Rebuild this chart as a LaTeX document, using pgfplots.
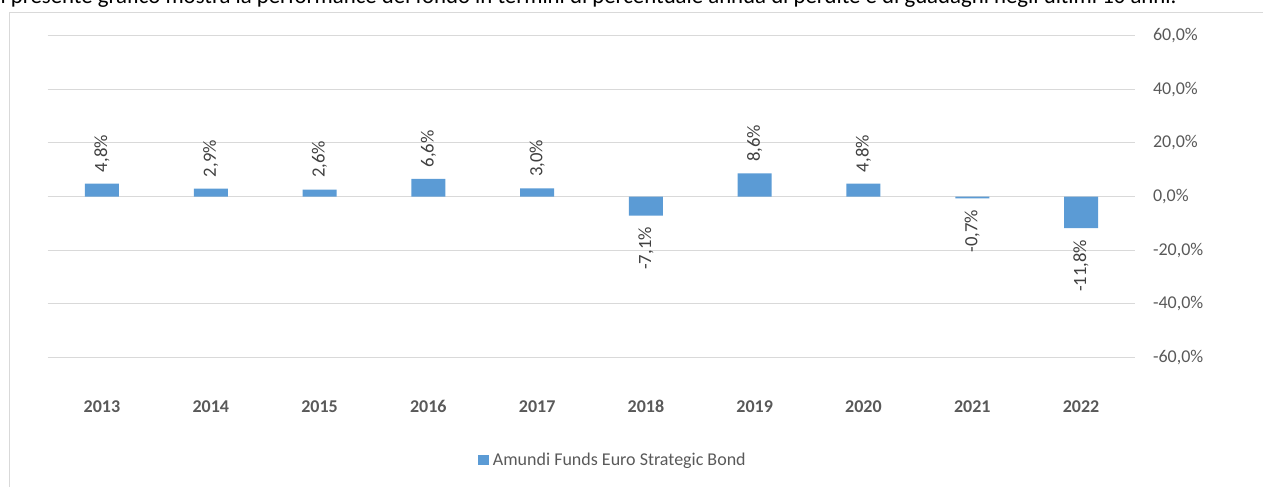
\documentclass[border=0pt]{standalone}
\usepackage{fontspec}
\setmainfont{Carlito}
\usepackage{pgfplots}
\pgfplotsset{compat=1.18}
\definecolor{barblue}{HTML}{5B9BD5}
\definecolor{gridgray}{HTML}{D9D9D9}
\definecolor{labgray}{HTML}{595959}
\definecolor{datgray}{HTML}{404040}
\newcommand{\lab}{\fontsize{13.5}{16}\selectfont}
\newcommand{\dat}{\fontsize{14}{16}\selectfont}

\begin{document}
\begin{tikzpicture}
\useasboundingbox (0pt,0pt) rectangle (947.25pt,-364.5pt);
% title line, cut by the page edge as in the source
\node[anchor=base west, inner sep=0pt, font=\fontsize{17.1}{20}\selectfont] at (-4.1pt,-2.25pt)
  {Il presente grafico mostra la performance del fondo in termini di percentuale annua di perdite e di guadagni negli ultimi 10 anni.};
\draw[gridgray, line width=0.75pt] (6.75pt,-400pt) -- (6.75pt,-9pt) -- (1000pt,-9pt);
\begin{axis}[
    at={(35.7pt,-267.975pt)}, anchor=south west,
    scale only axis, width=815.85pt, height=241.2pt,
    xmin=-0.5, xmax=9.5, ymin=-60, ymax=60,
    axis line style={draw=none}, tick style={draw=none},
    clip=false,
    /pgf/number format/assume math mode=true,
    ytick={-60,-40,...,60}, ymajorgrids,
    grid style={gridgray, line width=0.75pt},
    yticklabel pos=right,
    yticklabel={\pgfmathprintnumber[fixed,fixed zerofill,precision=1,use comma]{\tick}\%},
    yticklabel style={anchor=west, inner sep=0pt, xshift=13pt, font=\lab, text=labgray},
    xtick={0,...,9},
    xticklabels={2013,2014,2015,2016,2017,2018,2019,2020,2021,2022},
    xticklabel style={anchor=center, inner sep=0pt, yshift=-37pt, font=\lab\bfseries, text=labgray},
    legend image code/.code={\fill[barblue] (0pt,-3.95pt) rectangle (7.9pt,3.95pt);},
    legend style={at={(0.5189,-0.3193)}, anchor=center, draw=none, fill=none,
        inner sep=0pt, font=\lab, text=labgray,
        nodes={inner sep=0pt, anchor=west},
        /tikz/every odd column/.append style={column sep=3pt}},
    point meta=y,
    nodes near coords={\pgfmathprintnumber[fixed,fixed zerofill,precision=1,use comma]{\pgfplotspointmeta}\%},
]
% positive years
\addplot[ybar, bar width=25.5pt, bar shift=0pt, draw=none, fill=barblue,
    every node near coord/.append style={rotate=90, anchor=west, inner xsep=8.5pt, inner ysep=0pt, font=\dat, text=datgray}]
    coordinates {(0,4.8) (1,2.9) (2,2.6) (3,6.6) (4,3.0) (6,8.6) (7,4.8)};
\addlegendentry{Amundi Funds Euro Strategic Bond}
% negative years
\addplot[ybar, bar width=25.5pt, bar shift=0pt, draw=none, fill=barblue, forget plot,
    every node near coord/.append style={rotate=90, anchor=east, inner xsep=8.5pt, inner ysep=0pt, font=\dat, text=datgray}]
    coordinates {(5,-7.1) (8,-0.7) (9,-11.8)};
\end{axis}
\end{tikzpicture}
\end{document}
